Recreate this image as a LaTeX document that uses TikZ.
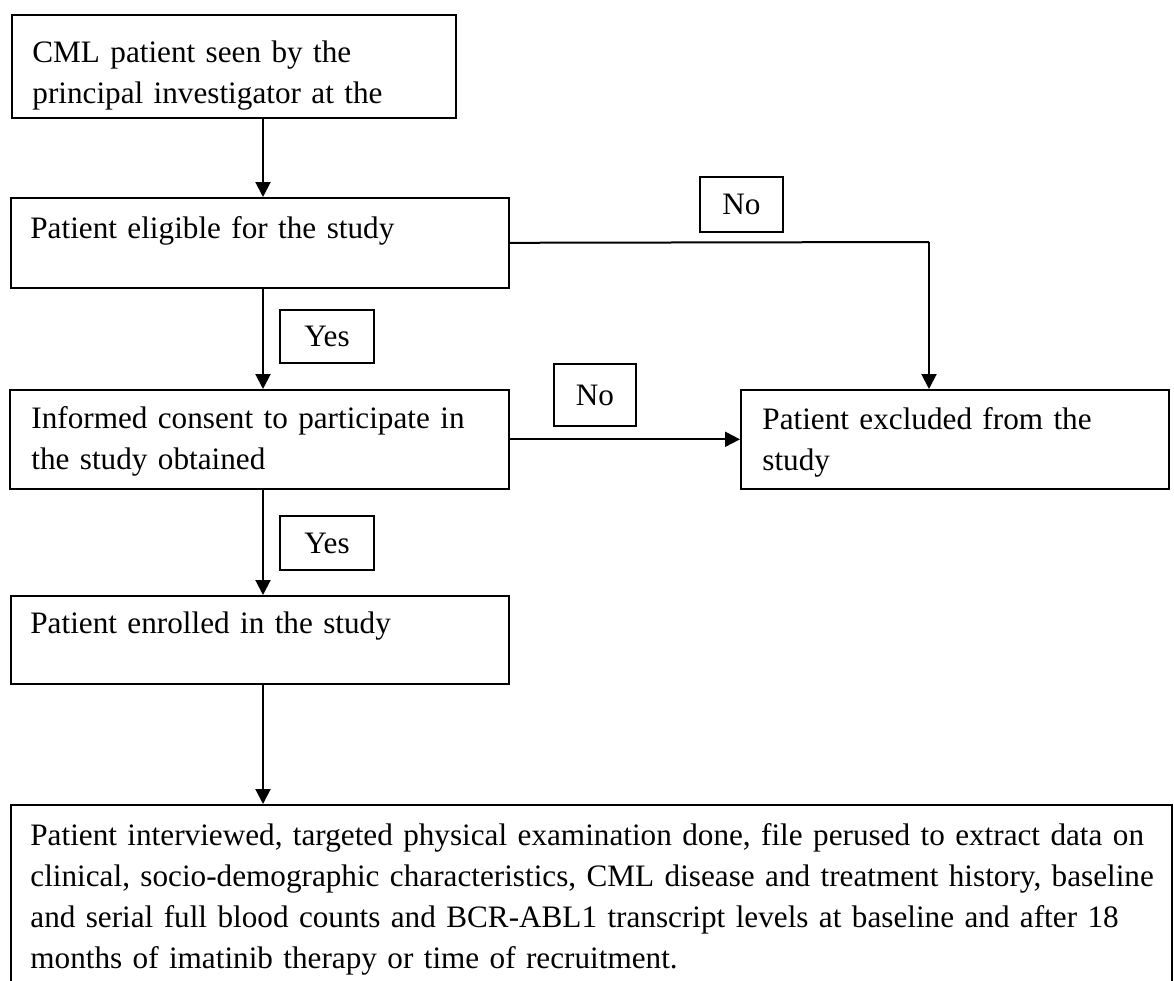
\documentclass[tikz,border=0pt]{standalone}
\usepackage{fontspec}
\setmainfont{Liberation Serif}
\usetikzlibrary{arrows.meta}
\begin{document}
\begin{tikzpicture}[x=0.5pt,y=-0.5pt,
 box/.style={draw,line width=0.8pt,rectangle,inner sep=0pt,anchor=north west},
 txt/.style={anchor=base west,inner sep=0pt,text width=590pt,align=left,font=\fontsize{15.6}{20.5}\selectfont},
 lab/.style={draw,line width=0.8pt,rectangle,inner sep=0pt,text height=10.4pt,text depth=0pt,font=\fontsize{15.6}{20.5}\selectfont},
 arr/.style={line width=1pt,-{Triangle[length=7.5pt,width=7.5pt]}},
 conn/.style={line width=1pt}]
\useasboundingbox (0,0) rectangle (1174,981);
\clip (0,0) rectangle (1174,981);
% boxes
\node[box,minimum width=222pt,minimum height=51.5pt] (b1) at (11,14) {};
\node[box,minimum width=249pt,minimum height=45pt] (b2) at (10,197) {};
\node[box,minimum width=249.5pt,minimum height=49.5pt] (b3) at (9,389) {};
\node[box,minimum width=214pt,minimum height=49.5pt] (b4) at (740,389) {};
\node[box,minimum width=249pt,minimum height=44pt] (b5) at (10,595) {};
\node[box,minimum width=580.5pt,minimum height=103pt] (b6) at (10,804) {};
% texts
\node[txt] (t1) at (32,62) {CML patient seen by the\\principal investigator at the};
\node[txt] (t2) at (30,238) {Patient eligible for the study};
\node[txt] (t3) at (31,428) {Informed consent to participate in\\the study obtained};
\node[txt] (t4) at (762,429) {Patient excluded from the\\study};
\node[txt] (t5) at (30,633) {Patient enrolled in the study};
\node[txt] (t6) at (30,845) {Patient interviewed, targeted physical examination done, file perused to extract data on\\clinical, socio-demographic characteristics, CML disease and treatment history, baseline\\and serial full blood counts and BCR-ABL1 transcript levels at baseline and after 18\\months of imatinib therapy or time of recruitment.};
% labels
\node[lab,minimum width=41.5pt,minimum height=27.5pt] (no1) at (741.5,204.5) {No};
\node[lab,minimum width=47pt,minimum height=26.5pt] (yes1) at (327,336.5) {Yes};
\node[lab,minimum width=41pt,minimum height=31pt] (no2) at (595,395) {No};
\node[lab,minimum width=47pt,minimum height=27pt] (yes2) at (327,543) {Yes};
% connectors
\coordinate (ax) at (263,0);
\coordinate (c1) at (929,242);
\draw[arr] (b1.south -| ax) -- (b2.north -| ax);
\draw[arr] (b2.south -| ax) -- (b3.north -| ax);
\draw[arr] (b3.south -| ax) -- (b5.north -| ax);
\draw[arr] (b5.south -| ax) -- (b6.north -| ax);
\draw[conn] (b2.east) -- (c1);
\draw[arr] (c1) -- (c1 |- b4.north);
\draw[arr] (b3.east) -- (b4.west);
\end{tikzpicture}
\end{document}
